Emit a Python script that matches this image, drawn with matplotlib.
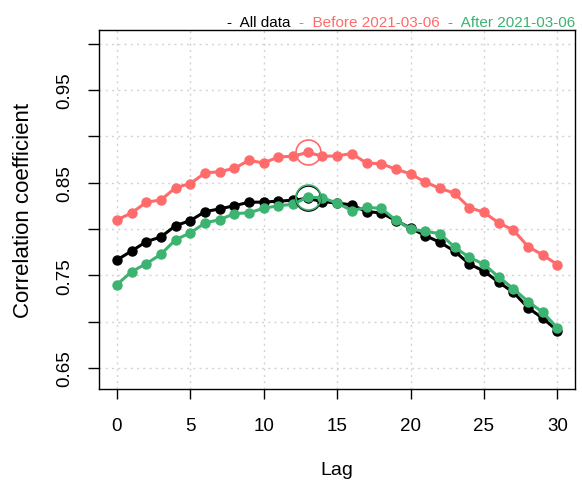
import numpy as np
import matplotlib.pyplot as plt
from matplotlib.transforms import offset_copy

plt.rcParams['font.family'] = ['Liberation Sans', 'DejaVu Sans']

lags = np.arange(0, 31)
all_data = [0.7665, 0.7762, 0.7863, 0.7914, 0.8036, 0.8090, 0.8187, 0.8216, 0.8251, 0.8288,
            0.8290, 0.8300, 0.8310, 0.8330, 0.8295, 0.8280, 0.8259, 0.8187, 0.8173, 0.8090,
            0.8010, 0.7928, 0.7856, 0.7760, 0.7622, 0.7545, 0.7425, 0.7317, 0.7150, 0.7036,
            0.6903]
before = [0.8097, 0.8173, 0.8288, 0.8313, 0.8446, 0.8489, 0.8604, 0.8618, 0.8655, 0.8740,
          0.8712, 0.8777, 0.8784, 0.8827, 0.8784, 0.8788, 0.8814, 0.8710, 0.8705, 0.8644,
          0.8595, 0.8504, 0.8439, 0.8385, 0.8230, 0.8180, 0.8065, 0.7989, 0.7809, 0.7720,
          0.7615]
after = [0.7399, 0.7539, 0.7625, 0.7727, 0.7885, 0.7957, 0.8065, 0.8100, 0.8165, 0.8175,
         0.8223, 0.8251, 0.8266, 0.8345, 0.8335, 0.8280, 0.8198, 0.8232, 0.8223, 0.8094,
         0.8000, 0.7973, 0.7950, 0.7802, 0.7694, 0.7618, 0.7482, 0.7356, 0.7216, 0.7101,
         0.6932]

series = [("All data", all_data, "black"),
          ("Before 2021-03-06", before, "#FF6B6B"),
          ("After 2021-03-06", after, "#3CB371")]

fig = plt.figure(figsize=(5.82, 4.81), dpi=100)
ax = fig.add_axes([0.1706, 0.1892, 0.8174, 0.7464])

# dotted grid behind everything
for x in range(0, 31, 5):
    ax.axvline(x, color="#D3D3D3", lw=1.0, ls=(0, (1.5, 3)), zorder=0)
for y in np.arange(0.65, 1.0001, 0.05):
    ax.axhline(y, color="#D3D3D3", lw=1.0, ls=(0, (1.5, 3)), zorder=0)

for name, vals, col in series:
    ax.plot(lags, vals, color=col, lw=2.2, marker="o", ms=6.5, mec=col, mfc=col, zorder=2)

# ring around the peak of each curve
for name, vals, col in series:
    i = int(np.argmax(vals))
    ax.plot(lags[i], vals[i], marker="o", ms=18, mfc="none", mec=col, mew=1.2, zorder=3)

ax.set_xlim(-1.2, 31.2)
ax.set_ylim(0.6273, 1.0147)
ax.set_xticks(range(0, 31, 5))
ax.set_yticks(np.arange(0.65, 1.0001, 0.05))
ax.set_yticklabels(["0.65", "", "0.75", "", "0.85", "", "0.95", ""])
ax.tick_params(axis="x", length=7.5, width=1.0, pad=13, labelsize=13.5)
ax.tick_params(axis="y", length=8, width=1.0, pad=11, labelsize=13.5)
for lab in ax.get_yticklabels():
    lab.set_rotation(90)
    lab.set_va("center")
for s in ax.spines.values():
    s.set_linewidth(1.0)

ax.set_xlabel("Lag", fontsize=14, labelpad=19)
ax.set_ylabel("Correlation coefficient", fontsize=16, labelpad=16)

# coloured key above the box, right aligned
pieces = [("-  " + name + ("  " if k < 2 else ""), col) for k, (name, vals, col) in enumerate(series)]
tr = offset_copy(ax.transAxes, fig=fig, x=0, y=4, units="dots")
prev = ax.text(1.0, 1.0, pieces[-1][0], color=pieces[-1][1], fontsize=11,
               ha="right", va="baseline", transform=tr)
for txt, col in reversed(pieces[:-1]):
    prev = ax.annotate(txt, xy=(0, 0), xycoords=prev, color=col, fontsize=11,
                       ha="right", va="bottom")

fig.savefig("out.png", dpi=100)
